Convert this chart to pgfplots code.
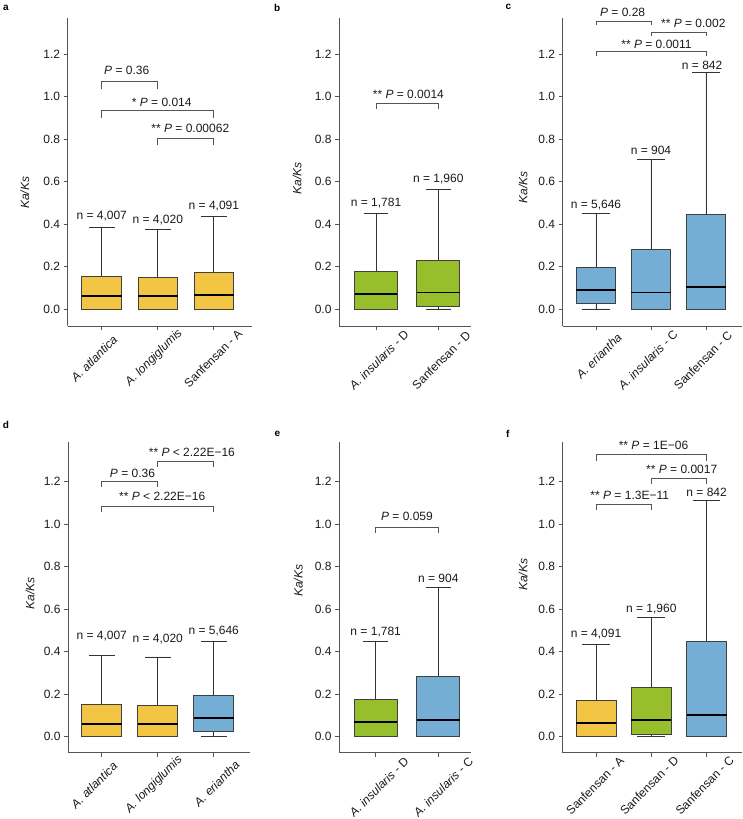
\documentclass[border=0pt]{standalone}
\usepackage{fontspec}
\setmainfont{Liberation Sans}
\usepackage{pgfplots}
\pgfplotsset{compat=1.18}
\usepgfplotslibrary{statistics}
\definecolor{cY}{HTML}{F2C545}
\definecolor{cG}{HTML}{97BF2B}
\definecolor{cB}{HTML}{74AED5}
\definecolor{axc}{HTML}{555555}
\definecolor{brc}{HTML}{555555}
\definecolor{txc}{HTML}{1A1A1A}
\newcommand{\fs}{\fontsize{12}{13.5}\selectfont}
\tikzset{lab/.style={font=\fs, text=txc, inner sep=0pt},
         xl/.style={font=\fs, text=txc, inner sep=0pt, rotate=45, anchor=center}}
\pgfplotsset{
  kk/.style={
    scale only axis,
    anchor=south west,
    axis x line*=bottom,
    axis y line*=left,
    ytick={0,0.2,0.4,0.6,0.8,1.0,1.2},
    tick align=outside,
    major tick length=4pt,
    axis line style={draw=axc, line width=0.8pt},
    every tick/.style={draw=axc, line width=0.8pt},
    ticklabel style={font=\fs, text=txc},
    /pgf/number format/assume math mode=true,
    yticklabel style={/pgf/number format/.cd, fixed, fixed zerofill, precision=1},
    xtick={1,2,3},
    xticklabels={},
    clip=false,
    boxplot/draw direction=y,
    boxplot/every median/.style={draw=black, line width=1.8pt},
    boxplot/every whisker/.style={draw=black!80, line width=0.8pt},
    boxplot/every box/.style={draw=black!75, line width=0.8pt},
  },
  toprow/.style={ymin=-0.08, ymax=1.37, height=308.1pt},
  botrow/.style={ymin=-0.075, ymax=1.385, height=310.25pt},
  br/.style={draw=brc, line width=0.8pt, mark=none},
}
\begin{document}
\begin{tikzpicture}
\path[use as bounding box] (0pt,0pt) rectangle (742pt,819pt);
\node[font=\bfseries\fontsize{10}{12}\selectfont] at (6pt,811pt) {a};
\node[font=\bfseries\fontsize{10}{12}\selectfont] at (277.3pt,811pt) {b};
\node[font=\bfseries\fontsize{10}{12}\selectfont] at (508.3pt,812pt) {c};
\node[font=\bfseries\fontsize{10}{12}\selectfont] at (6pt,394pt) {d};
\node[font=\bfseries\fontsize{10}{12}\selectfont] at (277.3pt,384.7pt) {e};
\node[font=\bfseries\fontsize{10}{12}\selectfont] at (507.7pt,384.7pt) {f};

% ---------------- a ----------------
\begin{axis}[kk, toprow, at={(67.7pt,493pt)}, width=184.3pt, xmin=0.393, xmax=3.68]
\addplot[boxplot prepared={lower whisker=0, lower quartile=0, median=0.061, upper quartile=0.152, upper whisker=0.384, draw position=1, box extend=0.71, whisker extend=0.46}, fill=cY] coordinates {};
\addplot[boxplot prepared={lower whisker=0, lower quartile=0, median=0.061, upper quartile=0.149, upper whisker=0.375, draw position=2, box extend=0.71, whisker extend=0.46}, fill=cY] coordinates {};
\addplot[boxplot prepared={lower whisker=0, lower quartile=0, median=0.066, upper quartile=0.172, upper whisker=0.434, draw position=3, box extend=0.71, whisker extend=0.46}, fill=cY] coordinates {};
\addplot[br] coordinates {(1,1.035) (1,1.07) (2,1.07) (2,1.035)};
\addplot[br] coordinates {(1,0.90) (1,0.933) (3,0.933) (3,0.90)};
\addplot[br] coordinates {(2,0.773) (2,0.805) (3,0.805) (3,0.773)};
\node[lab] at (axis cs:1.446,1.125) {\textit{P} = 0.36};
\node[lab] at (axis cs:2.07,0.972) {* \textit{P} = 0.014};
\node[lab] at (axis cs:2.58,0.85) {** \textit{P} = 0.00062};
\node[lab] at (axis cs:1,0.439) {n = 4,007};
\node[lab] at (axis cs:2,0.419) {n = 4,020};
\node[lab] at (axis cs:3,0.483) {n = 4,091};
\node[lab, rotate=90] at (axis cs:-0.37,0.547) {\textit{Ka/Ks}};
\node[xl] at ([xshift=-7.6pt,yshift=-32.5pt]axis cs:1,-0.08) {\textit{A. atlantica}};
\node[xl] at ([xshift=-3.7pt,yshift=-32pt]axis cs:2,-0.08) {\textit{A. longiglumis}};
\node[xl] at ([xshift=-0.8pt,yshift=-32.3pt]axis cs:3,-0.08) {Sanfensan - A};
\end{axis}

% ---------------- b ----------------
\begin{axis}[kk, toprow, at={(339pt,493pt)}, width=132pt, xmin=0.406, xmax=2.525, xtick={1,2}]
\addplot[boxplot prepared={lower whisker=0, lower quartile=0, median=0.069, upper quartile=0.177, upper whisker=0.45, draw position=1, box extend=0.69, whisker extend=0.40}, fill=cG] coordinates {};
\addplot[boxplot prepared={lower whisker=0, lower quartile=0.011, median=0.078, upper quartile=0.231, upper whisker=0.563, draw position=2, box extend=0.69, whisker extend=0.40}, fill=cG] coordinates {};
\addplot[br] coordinates {(1,0.941) (1,0.968) (2,0.968) (2,0.941)};
\node[lab] at (axis cs:1.52,1.01) {** \textit{P} = 0.0014};
\node[lab] at (axis cs:1,0.497) {n = 1,781};
\node[lab] at (axis cs:2,0.612) {n = 1,960};
\node[lab, rotate=90] at (axis cs:-0.268,0.615) {\textit{Ka/Ks}};
\node[xl] at ([xshift=3pt,yshift=-34pt]axis cs:1,-0.08) {\textit{A. insularis} - D};
\node[xl] at ([xshift=3pt,yshift=-34pt]axis cs:2,-0.08) {Sanfensan - D};
\end{axis}

% ---------------- c ----------------
\begin{axis}[kk, toprow, at={(562.7pt,493pt)}, width=179.3pt, xmin=0.395, xmax=3.655]
\addplot[boxplot prepared={lower whisker=0, lower quartile=0.026, median=0.088, upper quartile=0.196, upper whisker=0.45, draw position=1, box extend=0.72, whisker extend=0.5}, fill=cB] coordinates {};
\addplot[boxplot prepared={lower whisker=0, lower quartile=0, median=0.078, upper quartile=0.282, upper whisker=0.704, draw position=2, box extend=0.72, whisker extend=0.5}, fill=cB] coordinates {};
\addplot[boxplot prepared={lower whisker=0, lower quartile=0, median=0.102, upper quartile=0.447, upper whisker=1.113, draw position=3, box extend=0.72, whisker extend=0.5}, fill=cB] coordinates {};
\addplot[br] coordinates {(1,1.338) (1,1.353) (2,1.353) (2,1.338)};
\addplot[br] coordinates {(2,1.283) (2,1.302) (3,1.302) (3,1.283)};
\addplot[br] coordinates {(1,1.192) (1,1.211) (3,1.211) (3,1.192)};
\node[lab] at (axis cs:1.485,1.396) {\textit{P} = 0.28};
\node[lab] at (axis cs:2.77,1.344) {** \textit{P} = 0.002};
\node[lab] at (axis cs:2.1,1.247) {** \textit{P} = 0.0011};
\node[lab] at (axis cs:1,0.491) {n = 5,646};
\node[lab] at (axis cs:2,0.745) {n = 904};
\node[lab] at (axis cs:2.93,1.148) {n = 842};
\node[lab, rotate=90] at (axis cs:-0.327,0.572) {\textit{Ka/Ks}};
\node[xl] at ([xshift=3pt,yshift=-30pt]axis cs:1,-0.08) {\textit{A. eriantha}};
\node[xl] at ([xshift=-3pt,yshift=-34pt]axis cs:2,-0.08) {\textit{A. insularis} - C};
\node[xl] at ([xshift=-3pt,yshift=-34.5pt]axis cs:3,-0.08) {Sanfensan - C};
\end{axis}

% ---------------- d ----------------
\begin{axis}[kk, botrow, at={(68pt,66.4pt)}, width=182pt, xmin=0.398, xmax=3.648]
\addplot[boxplot prepared={lower whisker=0, lower quartile=0, median=0.061, upper quartile=0.152, upper whisker=0.384, draw position=1, box extend=0.71, whisker extend=0.46}, fill=cY] coordinates {};
\addplot[boxplot prepared={lower whisker=0, lower quartile=0, median=0.061, upper quartile=0.149, upper whisker=0.375, draw position=2, box extend=0.71, whisker extend=0.46}, fill=cY] coordinates {};
\addplot[boxplot prepared={lower whisker=0, lower quartile=0.026, median=0.088, upper quartile=0.196, upper whisker=0.45, draw position=3, box extend=0.71, whisker extend=0.46}, fill=cB] coordinates {};
\addplot[br] coordinates {(2,1.271) (2,1.294) (3,1.294) (3,1.271)};
\addplot[br] coordinates {(1,1.174) (1,1.2) (2,1.2) (2,1.174)};
\addplot[br] coordinates {(1,1.059) (1,1.082) (3,1.082) (3,1.059)};
\node[lab] at (axis cs:2.61,1.338) {** \textit{P} < 2.22E−16};
\node[lab] at (axis cs:1.55,1.24) {\textit{P} = 0.36};
\node[lab] at (axis cs:2.08,1.129) {** \textit{P} < 2.22E−16};
\node[lab] at (axis cs:1,0.471) {n = 4,007};
\node[lab] at (axis cs:2,0.461) {n = 4,020};
\node[lab] at (axis cs:3,0.497) {n = 5,646};
\node[lab, rotate=90] at (axis cs:-0.28,0.675) {\textit{Ka/Ks}};
\node[xl] at ([xshift=-7.6pt,yshift=-32.5pt]axis cs:1,-0.075) {\textit{A. atlantica}};
\node[xl] at ([xshift=-3.7pt,yshift=-32pt]axis cs:2,-0.075) {\textit{A. longiglumis}};
\node[xl] at ([xshift=3pt,yshift=-31pt]axis cs:3,-0.075) {\textit{A. eriantha}};
\end{axis}

% ---------------- e ----------------
\begin{axis}[kk, botrow, at={(339pt,66.4pt)}, width=132pt, xmin=0.414, xmax=2.523, xtick={1,2}]
\addplot[boxplot prepared={lower whisker=0, lower quartile=0, median=0.069, upper quartile=0.177, upper whisker=0.45, draw position=1, box extend=0.69, whisker extend=0.40}, fill=cG] coordinates {};
\addplot[boxplot prepared={lower whisker=0, lower quartile=0, median=0.078, upper quartile=0.282, upper whisker=0.704, draw position=2, box extend=0.69, whisker extend=0.40}, fill=cB] coordinates {};
\addplot[br] coordinates {(1,0.96) (1,0.985) (2,0.985) (2,0.96)};
\node[lab] at (axis cs:1.5,1.039) {\textit{P} = 0.059};
\node[lab] at (axis cs:1,0.494) {n = 1,781};
\node[lab] at (axis cs:2,0.745) {n = 904};
\node[lab, rotate=90] at (axis cs:-0.236,0.734) {\textit{Ka/Ks}};
\node[xl] at ([xshift=3.3pt,yshift=-34.4pt]axis cs:1,-0.075) {\textit{A. insularis} - D};
\node[xl] at ([xshift=5pt,yshift=-34.4pt]axis cs:2,-0.075) {\textit{A. insularis} - C};
\end{axis}

% ---------------- f ----------------
\begin{axis}[kk, botrow, at={(562.7pt,66.4pt)}, width=179.3pt, xmin=0.398, xmax=3.64]
\addplot[boxplot prepared={lower whisker=0, lower quartile=0, median=0.066, upper quartile=0.172, upper whisker=0.434, draw position=1, box extend=0.72, whisker extend=0.5}, fill=cY] coordinates {};
\addplot[boxplot prepared={lower whisker=0, lower quartile=0.011, median=0.078, upper quartile=0.231, upper whisker=0.563, draw position=2, box extend=0.72, whisker extend=0.5}, fill=cG] coordinates {};
\addplot[boxplot prepared={lower whisker=0, lower quartile=0, median=0.102, upper quartile=0.447, upper whisker=1.113, draw position=3, box extend=0.72, whisker extend=0.5}, fill=cB] coordinates {};
\addplot[br] coordinates {(1,1.299) (1,1.326) (3,1.326) (3,1.299)};
\addplot[br] coordinates {(2,1.189) (2,1.216) (3,1.216) (3,1.189)};
\addplot[br] coordinates {(1,1.067) (1,1.094) (2,1.094) (2,1.067)};
\node[lab] at (axis cs:2.04,1.369) {** \textit{P} = 1E−06};
\node[lab] at (axis cs:2.55,1.258) {** \textit{P} = 0.0017};
\node[lab] at (axis cs:1.61,1.137) {** \textit{P} = 1.3E−11};
\node[lab] at (axis cs:1,0.483) {n = 4,091};
\node[lab] at (axis cs:2,0.6) {n = 1,960};
\node[lab] at (axis cs:3,1.15) {n = 842};
\node[lab, rotate=90] at (axis cs:-0.32,0.761) {\textit{Ka/Ks}};
\node[xl] at ([xshift=-1pt,yshift=-33pt]axis cs:1,-0.075) {Sanfensan - A};
\node[xl] at ([xshift=-2pt,yshift=-33pt]axis cs:2,-0.075) {Sanfensan - D};
\node[xl] at ([xshift=-2pt,yshift=-33pt]axis cs:3,-0.075) {Sanfensan - C};
\end{axis}
\end{tikzpicture}
\end{document}
